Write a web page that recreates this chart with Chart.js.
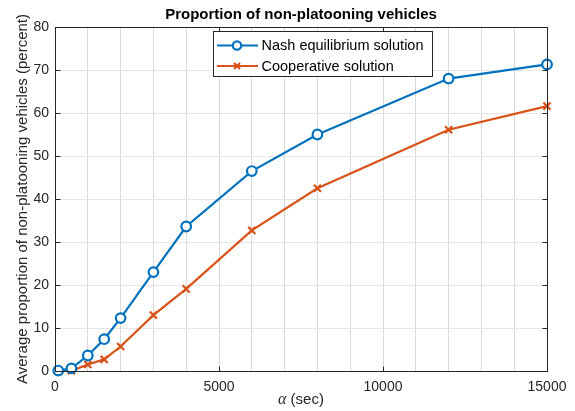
<!DOCTYPE html>
<html>
<head>
<meta charset="utf-8">
<script src="https://cdn.jsdelivr.net/npm/chart.js@4.4.0/dist/chart.umd.min.js"></script>
<style>
    html, body { margin: 0; padding: 0; background: #fff; }
    #wrap { width: 575px; height: 411px; }
</style>
</head>
<body>
<div id="wrap"><canvas id="chart" width="575" height="411"></canvas></div>
<script>
// values
var alphaValues = [100, 500, 1000, 1500, 2000, 3000, 4000, 6000, 8000, 12000, 15000];
var nashValues = [0.1, 0.6, 3.6, 7.4, 12.3, 23.0, 33.6, 46.5, 55.0, 68.0, 71.3];
var coopValues = [0.1, 0.05, 1.5, 2.7, 5.7, 13.0, 19.1, 32.7, 42.5, 56.1, 61.6];

var seriesLabels = ['Nash equilibrium solution', 'Cooperative solution'];
var xTickLabels = [0, 5000, 10000, 15000];
var yTickLabels = [0, 10, 20, 30, 40, 50, 60, 70, 80];

var chartTitle = 'Proportion of non-platooning vehicles';
var yTitle = 'Average proportion of non-platooning vehicles (percent)';
var xTitleSymbol = '\u03b1';
var xTitleUnit = ' (sec)';

var FONT = '"Liberation Sans", Arial, Helvetica, sans-serif';
var AXIS_COLOR = '#262626';
var colors = ['#0072BD', '#D95319'];

function toPoints(values) {
    return alphaValues.map(function (a, i) { return { x: a, y: values[i] }; });
}

// box, inward ticks, legend and x label drawn like a matlab axes
var matlabAxes = {
    id: 'matlabAxes',
    afterDraw: function (chart) {
        var ctx = chart.ctx;
        var area = chart.chartArea;
        var xs = chart.scales.x;
        var ys = chart.scales.y;
        var L = Math.round(area.left) + 0.5, R = Math.round(area.right) + 0.5;
        var T = Math.round(area.top) + 0.5, B = Math.round(area.bottom) + 0.5;

        ctx.save();
        ctx.strokeStyle = AXIS_COLOR;
        ctx.lineWidth = 1;
        ctx.strokeRect(L, T, R - L, B - T);

        ctx.beginPath();
        xTickLabels.forEach(function (v) {
            var px = Math.round(xs.getPixelForValue(v)) + 0.5;
            ctx.moveTo(px, B); ctx.lineTo(px, B - 5);
            ctx.moveTo(px, T); ctx.lineTo(px, T + 5);
        });
        yTickLabels.forEach(function (v) {
            var py = Math.round(ys.getPixelForValue(v)) + 0.5;
            ctx.moveTo(L, py); ctx.lineTo(L + 5, py);
            ctx.moveTo(R, py); ctx.lineTo(R - 5, py);
        });
        ctx.stroke();

        // legend
        var lx = 213.5, ly = 31.5, lw = 219, lh = 45;
        ctx.fillStyle = '#fff';
        ctx.fillRect(lx, ly, lw, lh);
        ctx.strokeStyle = AXIS_COLOR;
        ctx.strokeRect(lx, ly, lw, lh);
        ctx.font = '14.5px ' + FONT;
        ctx.textBaseline = 'middle';
        ctx.textAlign = 'left';
        var rows = [45.5, 66];
        chart.data.datasets.forEach(function (ds, i) {
            var y = rows[i];
            ctx.strokeStyle = ds.borderColor;
            ctx.lineWidth = 2.2;
            ctx.beginPath();
            ctx.moveTo(217, y); ctx.lineTo(258, y);
            ctx.stroke();
            var cx = 237;
            if (ds.pointStyle === 'circle') {
                ctx.fillStyle = '#fff';
                ctx.beginPath();
                ctx.arc(cx, y, 4.2, 0, Math.PI * 2);
                ctx.fill();
                ctx.stroke();
            } else {
                ctx.beginPath();
                ctx.moveTo(cx - 3, y - 3); ctx.lineTo(cx + 3, y + 3);
                ctx.moveTo(cx + 3, y - 3); ctx.lineTo(cx - 3, y + 3);
                ctx.stroke();
            }
            ctx.fillStyle = '#000';
            ctx.fillText(ds.label, 261.5, y + 0.5);
        });

        // x label with italic alpha
        var symFont = 'italic 16px "Liberation Serif", "DejaVu Serif", serif';
        var unitFont = '15px ' + FONT;
        ctx.font = symFont;
        var w1 = ctx.measureText(xTitleSymbol).width;
        ctx.font = unitFont;
        var w2 = ctx.measureText(xTitleUnit).width;
        var start = (area.left + area.right) / 2 - (w1 + w2) / 2;
        ctx.fillStyle = AXIS_COLOR;
        ctx.font = symFont;
        ctx.fillText(xTitleSymbol, start, 399.5);
        ctx.font = unitFont;
        ctx.fillText(xTitleUnit, start + w1, 399.5);
        ctx.restore();
    }
};

new Chart(document.getElementById('chart'), {
    type: 'line',
    data: {
        datasets: [
            {
                label: seriesLabels[0],
                data: toPoints(nashValues),
                borderColor: colors[0],
                backgroundColor: colors[0],
                pointStyle: 'circle',
                pointRadius: 4.8,
                pointBorderWidth: 2.2,
                pointBackgroundColor: '#fff',
                borderWidth: 2.2,
                tension: 0,
                clip: false
            },
            {
                label: seriesLabels[1],
                data: toPoints(coopValues),
                borderColor: colors[1],
                backgroundColor: colors[1],
                pointStyle: 'crossRot',
                pointRadius: 5,
                pointBorderWidth: 2.2,
                borderWidth: 2.2,
                tension: 0,
                clip: false
            }
        ]
    },
    options: {
        responsive: false,
        animation: false,
        devicePixelRatio: 1,
        layout: { padding: { left: 0, right: 28, top: 0, bottom: 0 } },
        plugins: {
            legend: { display: false },
            tooltip: { enabled: false },
            title: {
                display: true,
                fullSize: false,
                text: chartTitle,
                color: '#000',
                font: { family: FONT, size: 15, weight: 'bold' },
                padding: { top: 6, bottom: 3 }
            }
        },
        scales: {
            x: {
                type: 'linear',
                min: 0,
                max: 15000,
                afterFit: function (s) { s.height = 40; },
                ticks: {
                    stepSize: 1000,
                    autoSkip: false,
                    maxRotation: 0,
                    padding: 8,
                    color: AXIS_COLOR,
                    font: { family: FONT, size: 14 },
                    callback: function (v) { return xTickLabels.indexOf(v) >= 0 ? String(v) : ''; }
                },
                grid: { color: '#d9d9d9', drawTicks: false },
                border: { display: false }
            },
            y: {
                min: 0,
                max: 80,
                afterFit: function (s) { s.width = 55; },
                ticks: {
                    stepSize: 10,
                    padding: 6,
                    color: AXIS_COLOR,
                    font: { family: FONT, size: 14 }
                },
                grid: { color: '#e6e6e6', drawTicks: false },
                border: { display: false },
                title: {
                    display: true,
                    text: yTitle,
                    color: AXIS_COLOR,
                    font: { family: FONT, size: 15 },
                    padding: { top: 14 }
                }
            }
        }
    },
    plugins: [matlabAxes]
});
</script>
</body>
</html>
